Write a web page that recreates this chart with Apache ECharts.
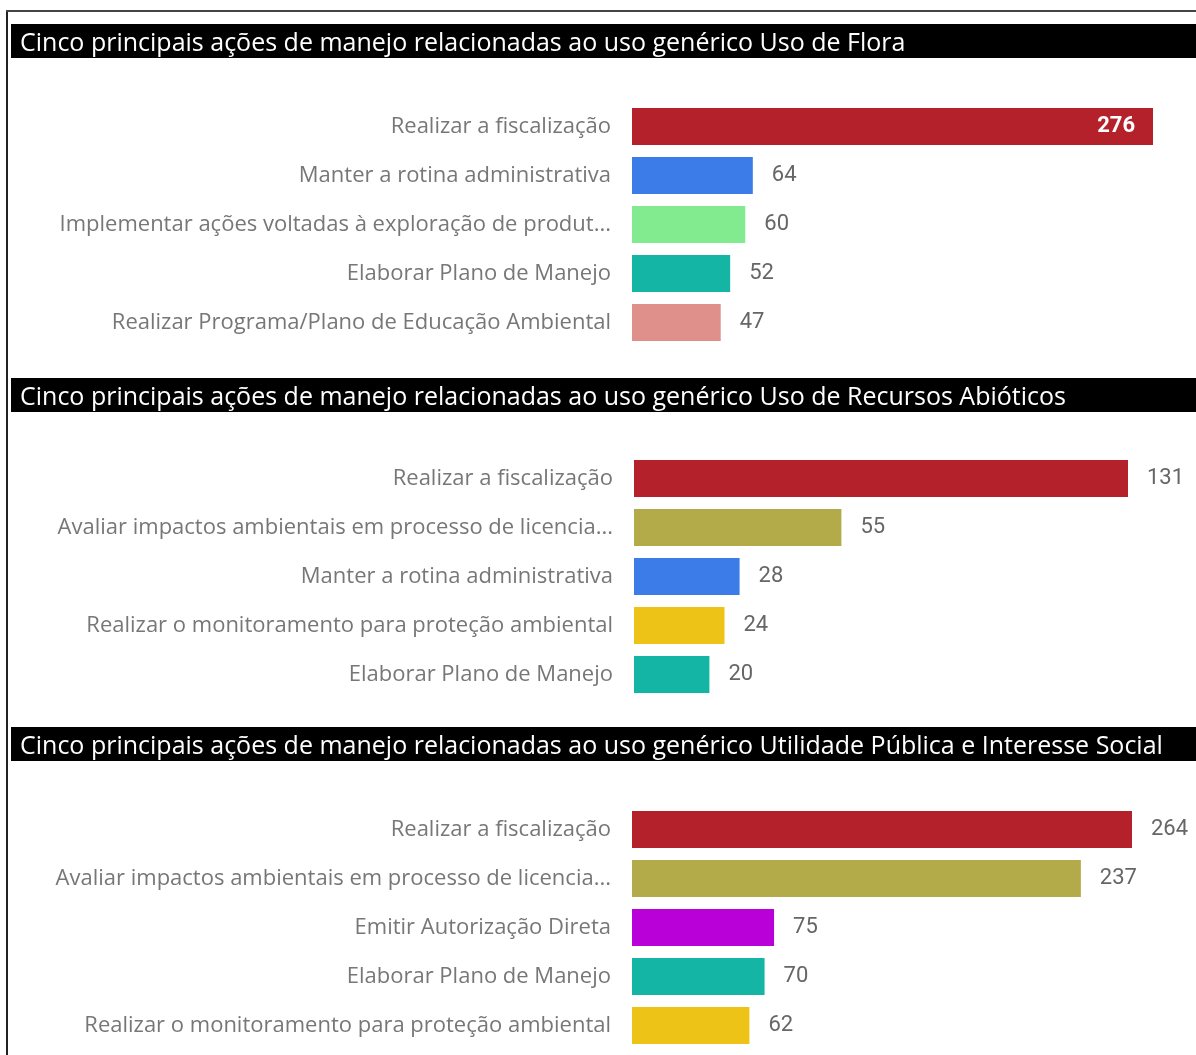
<!DOCTYPE html>
<html>
<head>
<meta charset="utf-8">
<title>Cinco principais ações de manejo</title>
<script src="https://cdn.jsdelivr.net/npm/echarts@6/dist/echarts.min.js"></script>
<style>
  html, body { margin: 0; padding: 0; background: #ffffff; }
  #chart { width: 1196px; height: 1055px; }
</style>
</head>
<body>
<div id="chart"></div>
<script>
// Panel titles
const titles = [
  'Cinco principais ações de manejo relacionadas ao uso genérico Uso de Flora',
  'Cinco principais ações de manejo relacionadas ao uso genérico Uso de Recursos Abióticos',
  'Cinco principais ações de manejo relacionadas ao uso genérico Utilidade Pública e Interesse Social'
];

// Uso de Flora
const floraCategories = [
  'Realizar a fiscalização',
  'Manter a rotina administrativa',
  'Implementar ações voltadas à exploração de produt...',
  'Elaborar Plano de Manejo',
  'Realizar Programa/Plano de Educação Ambiental'
];
const floraValues = [276, 64, 60, 52, 47];

// Uso de Recursos Abióticos
const abioticCategories = [
  'Realizar a fiscalização',
  'Avaliar impactos ambientais em processo de licencia...',
  'Manter a rotina administrativa',
  'Realizar o monitoramento para proteção ambiental',
  'Elaborar Plano de Manejo'
];
const abioticValues = [131, 55, 28, 24, 20];

// Utilidade Pública e Interesse Social
const publicCategories = [
  'Realizar a fiscalização',
  'Avaliar impactos ambientais em processo de licencia...',
  'Emitir Autorização Direta',
  'Elaborar Plano de Manejo',
  'Realizar o monitoramento para proteção ambiental'
];
const publicValues = [264, 237, 75, 70, 62];

// One colour per action, shared across panels
const actionColors = {
  'Realizar a fiscalização': '#B5212A',
  'Manter a rotina administrativa': '#3C7CE8',
  'Implementar ações voltadas à exploração de produt...': '#82EB90',
  'Elaborar Plano de Manejo': '#15B5A6',
  'Realizar Programa/Plano de Educação Ambiental': '#E0908B',
  'Avaliar impactos ambientais em processo de licencia...': '#B3AA4A',
  'Realizar o monitoramento para proteção ambiental': '#EEC318',
  'Emitir Autorização Direta': '#B900D9'
};

const panels = [
  { title: titles[0], cats: floraCategories, vals: floraValues, barTop: 102, left: 632, plotW: 521, titleTop: 24, topLabelInside: true },
  { title: titles[1], cats: abioticCategories, vals: abioticValues, barTop: 454, left: 634, plotW: 494, titleTop: 378, topLabelInside: false },
  { title: titles[2], cats: publicCategories, vals: publicValues, barTop: 805, left: 632, plotW: 500, titleTop: 727, topLabelInside: false }
];

const W = 1196;
const catFont = '"Open Sans", "Noto Sans", sans-serif';
const numFont = 'Roboto, "DejaVu Sans", sans-serif';

const grids = [], xAxes = [], yAxes = [], series = [], graphics = [];

panels.forEach((p, i) => {
  grids.push({ left: p.left, width: p.plotW, top: p.barTop, height: 245, containLabel: false });
  xAxes.push({
    type: 'value', gridIndex: i, min: 0, max: 'dataMax',
    show: false
  });
  yAxes.push({
    type: 'category', gridIndex: i, inverse: true, data: p.cats,
    axisLine: { show: false }, axisTick: { show: false },
    axisLabel: { color: '#777777', fontSize: 22, fontFamily: catFont, margin: 21 }
  });
  series.push({
    type: 'bar', xAxisIndex: i, yAxisIndex: i, barWidth: 37,
    data: p.vals.map((v, k) => {
      const item = { value: v, itemStyle: { color: actionColors[p.cats[k]] } };
      if (p.topLabelInside && k === 0) {
        item.label = { position: 'insideRight', distance: 18, color: '#ffffff', fontWeight: 'bold' };
      }
      return item;
    }),
    label: {
      show: true, position: 'right', distance: 19,
      color: '#666666', fontSize: 22, fontFamily: numFont,
      padding: [3, 0, 0, 0]
    },
    silent: true, animation: false
  });
  // black title band
  graphics.push({
    type: 'rect', left: 11, top: p.titleTop, silent: true,
    shape: { width: W - 11, height: 34 },
    style: { fill: '#000000' }
  });
  graphics.push({
    type: 'text', x: 20, y: p.titleTop + 20, silent: true,
    style: {
      text: p.title, fill: '#ffffff', fontSize: 25, fontFamily: catFont,
      verticalAlign: 'middle', align: 'left'
    }
  });
});

// frame lines along the left and top edges
graphics.push({ type: 'line', silent: true, shape: { x1: 7, y1: 11, x2: 7, y2: 1055 }, style: { stroke: '#222222', lineWidth: 2 } });
graphics.push({ type: 'line', silent: true, shape: { x1: 6, y1: 11, x2: W, y2: 11 }, style: { stroke: '#444444', lineWidth: 2 } });

const chart = echarts.init(document.getElementById('chart'));
chart.setOption({
  backgroundColor: '#ffffff',
  animation: false,
  grid: grids,
  xAxis: xAxes,
  yAxis: yAxes,
  series: series,
  graphic: graphics
});
</script>
</body>
</html>
